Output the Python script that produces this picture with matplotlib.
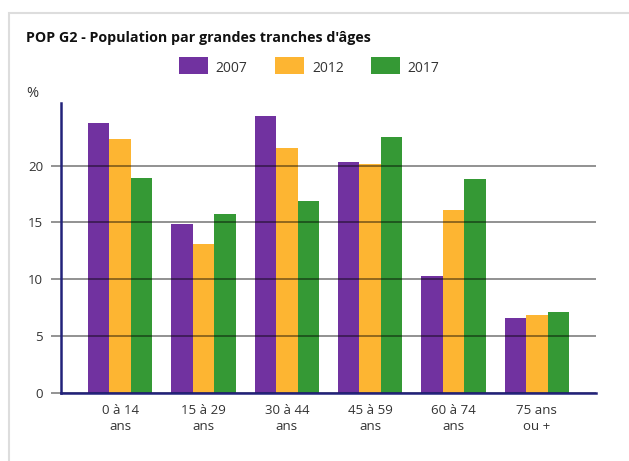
import matplotlib
matplotlib.use("Agg")
import matplotlib.pyplot as plt
import numpy as np
from matplotlib.patches import Rectangle

categories = ["0 à 14\nans", "15 à 29\nans", "30 à 44\nans", "45 à 59\nans", "60 à 74\nans", "75 ans\nou +"]
years = ["2007", "2012", "2017"]
v2007 = [23.7, 14.9, 24.4, 20.3, 10.3, 6.6]
v2012 = [22.3, 13.1, 21.5, 20.1, 16.1, 6.9]
v2017 = [18.9, 15.7, 16.9, 22.5, 18.8, 7.1]
series = [v2007, v2012, v2017]
colors = ["#7132A0", "#FDB532", "#359935"]
yticks = [0, 5, 10, 15, 20]

plt.rcParams['font.family'] = ['Open Sans', 'DejaVu Sans']

W, H = 629, 461
fig = plt.figure(figsize=(W / 100, H / 100), dpi=100)

# outer frame
fig.patches.append(Rectangle((9 / W, -0.1), 1.2, (H - 13) / H + 0.1, transform=fig.transFigure,
                             fill=False, edgecolor="#dddddd", linewidth=1.5))

ax = fig.add_axes([61 / W, 1 - 393 / H, (596 - 61) / W, (393 - 103) / H])
x = np.arange(len(categories))
bw = 0.258
for i, (vals, c, y) in enumerate(zip(series, colors, years)):
    ax.bar(x + (i - 1) * bw, vals, width=bw, color=c, label=y, zorder=2)

ax.set_xlim(-0.71, len(categories) - 1 + 0.71)
ax.set_ylim(0, 25.5)
ax.set_yticks(yticks)
ax.set_yticklabels([str(t) for t in yticks], fontsize=9.5, color="#333333")
ax.yaxis.grid(True, color="black", alpha=0.5, linewidth=1.2, zorder=3)
ax.set_axisbelow(False)
ax.tick_params(axis="y", length=7, width=1.2, color="#808080", pad=6)
ax.set_xticks(x)
ax.set_xticklabels(categories, fontsize=9.5, color="#333333", linespacing=1.25)
ax.tick_params(axis="x", length=0, pad=8)

for s in ["top", "right"]:
    ax.spines[s].set_visible(False)
ax.spines["left"].set_color("#22227a")
ax.spines["left"].set_linewidth(1.8)
ax.spines["bottom"].set_color("#22227a")
ax.spines["bottom"].set_linewidth(1.8)
ax.spines["left"].set_zorder(4)
ax.spines["bottom"].set_zorder(4)

fig.text(26 / W, 1 - 42 / H, "POP G2 - Population par grandes tranches d'âges",
         fontsize=10.3, fontweight="bold", color="#111111", ha="left", va="baseline")
fig.text(26 / W, 1 - 97 / H, "%", fontsize=10.5, color="#333333", ha="left", va="baseline")

leg = [(179, 215, "2007", colors[0]), (275, 312, "2012", colors[1]), (371, 407, "2017", colors[2])]
for px, tx, lab, c in leg:
    fig.patches.append(Rectangle((px / W, 1 - 74 / H), 29 / W, 17 / H, transform=fig.transFigure,
                                 facecolor=c, edgecolor="none"))
    fig.text(tx / W, 1 - 71.5 / H, lab, fontsize=10, color="#333333", ha="left", va="baseline")

fig.savefig("out.png", dpi=100)
